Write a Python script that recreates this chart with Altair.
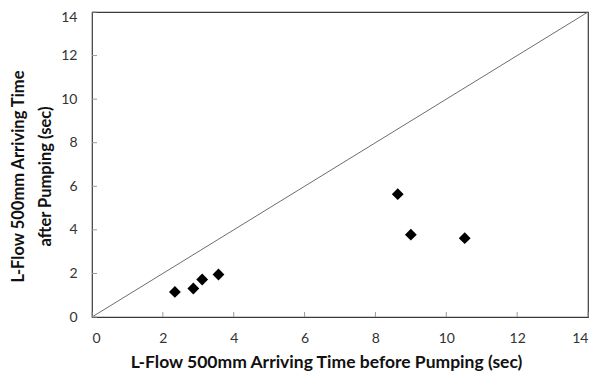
import altair as alt
import pandas as pd

x_before = [2.34, 2.86, 3.11, 3.57, 8.63, 9.00, 10.52]
y_after = [1.15, 1.31, 1.72, 1.95, 5.64, 3.78, 3.62]
diag_x = [0, 14]
diag_y = [0, 14]
tick_vals = [0, 2, 4, 6, 8, 10, 12, 14]

pts = pd.DataFrame({"x": x_before, "y": y_after})
diag = pd.DataFrame({"x": diag_x, "y": diag_y})
ticks = pd.DataFrame({"v": tick_vals})

FONT = "Lato"
xs = alt.Scale(domain=[0, 14], nice=False, zero=True)
ys = alt.Scale(domain=[0, 14], nice=False, zero=True)

xaxis = alt.Axis(
    values=tick_vals, grid=False, ticks=False, domain=False,
    labelFont=FONT, labelFontSize=14, labelColor="#333333", labelPadding=14,
    title="L-Flow 500mm Arriving Time before Pumping (sec)",
    titleFont=FONT, titleFontSize=17.5, titleFontWeight="bold", titleColor="#111111",
    titleX=234, titleY=50, titleBaseline="alphabetic", titleAnchor="start", titleAlign="center",
)
yaxis = alt.Axis(
    values=tick_vals, grid=False, ticks=False, domain=False,
    labelFont=FONT, labelFontSize=14, labelColor="#333333", labelPadding=15,
    labelOffset={"condition": {"test": "datum.value == 14", "value": 5}, "value": 0},
    title=["L-Flow 500mm Arriving Time", "after Pumping (sec)"],
    titleFont=FONT, titleFontSize=16.5, titleFontWeight="bold", titleColor="#111111",
    titleLineHeight=27, titleX=-69, titleY=164, titleBaseline="alphabetic",
    titleAlign="center", titleAngle=270,
)

base_x = alt.X("x:Q", scale=xs, axis=xaxis)
base_y = alt.Y("y:Q", scale=ys, axis=yaxis)

line = alt.Chart(diag).mark_line(color="#6e6e6e", strokeWidth=1).encode(x=base_x, y=base_y)

xt = alt.Chart(ticks).mark_rule(color="#9a9a9a", strokeWidth=1).encode(
    x=alt.X("v:Q", scale=xs), y=alt.value(305), y2=alt.value(300)
)
yt = alt.Chart(ticks).mark_rule(color="#9a9a9a", strokeWidth=1).encode(
    y=alt.Y("v:Q", scale=ys), x=alt.value(0), x2=alt.value(5)
)

points = alt.Chart(pts).mark_point(shape="diamond", filled=True, color="black", size=140, opacity=1).encode(
    x=base_x, y=base_y
)

chart = (
    alt.layer(line, xt, yt, points)
    .properties(
        width=496, height=305,
        autosize=alt.AutoSizeParams(type="none"),
        padding={"left": 84, "top": 4, "right": 1, "bottom": 54},
        background="white",
    )
    .configure_view(stroke="#3a3a3a", strokeWidth=1.2)
)

chart.save("out.html", embed_options={"renderer": "svg", "actions": False})
